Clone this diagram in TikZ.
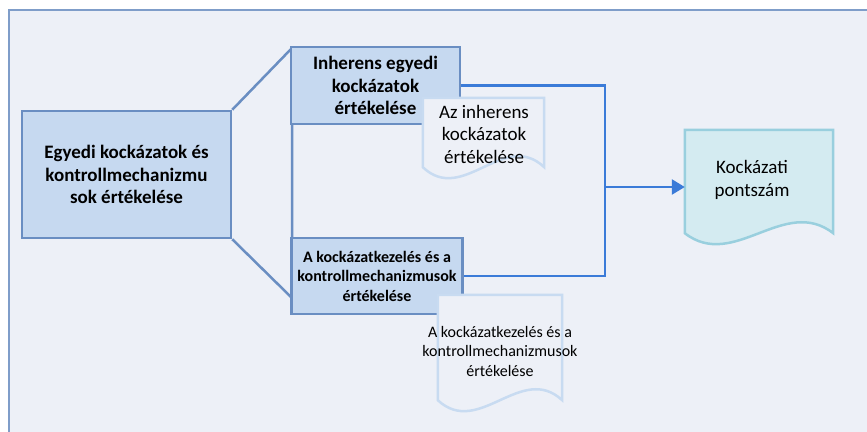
\documentclass[tikz,border=0pt]{standalone}
\usepackage{fontspec}
\setmainfont{Carlito}
\usetikzlibrary{calc}
\usetikzlibrary{arrows.meta}

\definecolor{framebg}{HTML}{EDF0F7}
\definecolor{frameline}{HTML}{7F9DC9}
\definecolor{boxfill}{HTML}{C6D9F0}
\definecolor{boxline}{HTML}{6A8EC2}
\definecolor{docline}{HTML}{C8DBF1}
\definecolor{linkblue}{HTML}{3B7BD8}
\definecolor{scorefill}{HTML}{D4EBF1}
\definecolor{scoreline}{HTML}{99CFDE}

\tikzset{
  stagebox/.style={draw=boxline, fill=boxfill, line width=2.5pt, align=center,
    inner sep=0pt, font=\bfseries\fontsize{19}{22.5}\selectfont},
  docnode/.style={inner sep=0pt, align=center, font=\fontsize{19}{22.5}\selectfont},
  link/.style={linkblue, line width=2.5pt}
}

% document shape drawn round a named node
\newcommand\docwave[2]{%
  \draw[#2] (#1.south west) -- (#1.north west) -- (#1.north east) -- (#1.south east)
    .. controls ($(#1.south east)!0.33!(#1.south west)+(0,-38)$)
    and ($(#1.south east)!0.67!(#1.south west)+(0,38)$) .. (#1.south west) -- cycle;}

\begin{document}
\begin{tikzpicture}[x=1pt,y=-1pt]

\useasboundingbox (0,0) rectangle (867,431);
\clip (0,0) rectangle (867,431);
\fill[white] (0,0) rectangle (867,431);

\draw[frameline, fill=framebg, line width=2.5pt] (9,10) rectangle (890,450);

\node[stagebox, minimum width=209pt, minimum height=127pt] (main) at (126.5,174.5)
  {Egyedi kockázatok és\\kontrollmechanizmu\\sok értékelése};

\coordinate (bt) at (292,48);
\coordinate (bb) at (292,298);
\draw[boxline, line width=2.5pt, line join=round] (main.north east)--(bt)--(bb)--(main.south east);

\node[stagebox, minimum width=169pt, minimum height=77pt] (inh) at (375.5,85.5)
  {Inherens egyedi\\kockázatok\\értékelése};
\node[stagebox, minimum width=171pt, minimum height=76pt,
  font=\bfseries\fontsize{16}{19.5}\selectfont] (kez) at (377,276)
  {A kockázatkezelés és a\\kontrollmechanizmusok\\értékelése};

\coordinate (j) at (605,187);
\draw[link] (inh.east) -| (j) |- (kez.east);

\node[docnode, minimum width=121pt, minimum height=69pt] (inhdoc) at (483.5,132.5) {};
\docwave{inhdoc}{docline, fill=framebg, line width=2.5pt}
\node[docnode] (inhdoctext) at (484,134) {Az inherens\\kockázatok\\értékelése};

\node[docnode, minimum width=124pt, minimum height=105pt] (kezdoc) at (500,347.5) {};
\docwave{kezdoc}{docline, fill=framebg, line width=2.5pt}
\node[docnode, font=\fontsize{16}{19.5}\selectfont] (kezdoctext) at (500,351)
  {A kockázatkezelés és a\\kontrollmechanizmusok\\értékelése};

\node[docnode, minimum width=148pt, minimum height=103pt] (score) at (759,181.5) {};
\docwave{score}{scoreline, fill=scorefill, line width=2.5pt}
\node[docnode] (scoretext) at (752,180) {Kockázati\\pontszám};

\draw[link, -{Triangle[length=13pt,width=15pt]}] (j) -- (j -| score.west);

\end{tikzpicture}
\end{document}
